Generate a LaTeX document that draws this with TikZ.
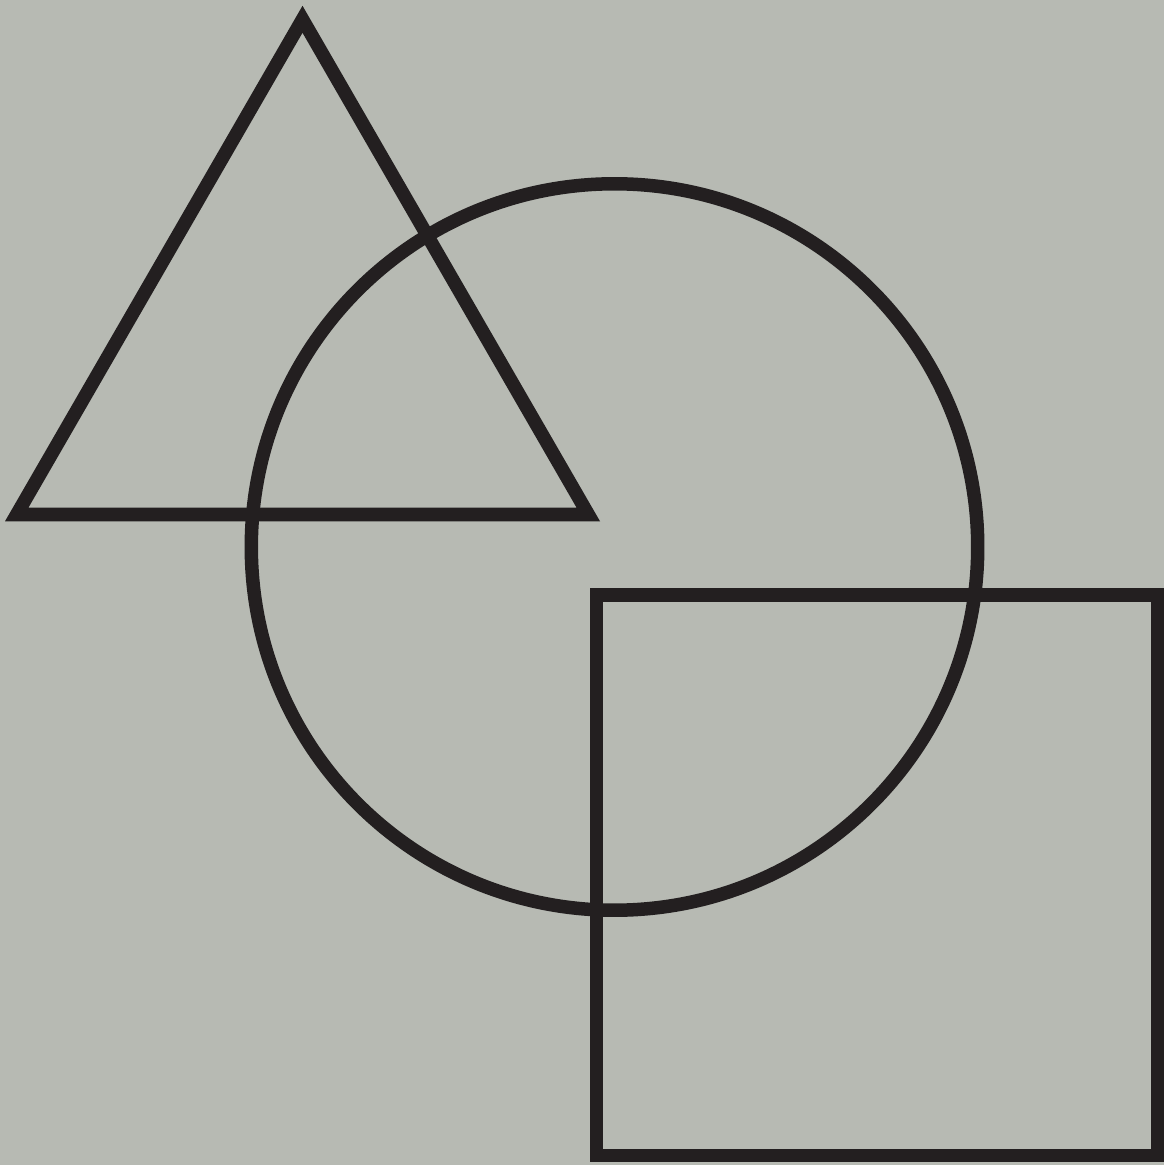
\documentclass[tikz,border=0pt]{standalone}
\usepackage{xcolor}
\usetikzlibrary{calc}
\definecolor{paper}{HTML}{B7BAB3}
\definecolor{ink}{HTML}{231F20}
\tikzset{outline/.style={draw=ink,line width=0.135cm,miter limit=10}}

\begin{document}
\begin{tikzpicture}[x=0.01cm,y=-0.01cm]
        % Background
        \fill[paper] (0,0) rectangle (1164,1165);
        \useasboundingbox (0,0) rectangle (1164,1165);

        % Triangle
        \coordinate (apex) at (302.5,19.3);
        \coordinate (left) at (16.7,514.5);
        \coordinate (right) at (588.3,514.5);
        \draw[outline] (apex) -- (left) -- (right) -- cycle;

        % Circle
        \coordinate (centre) at (614.5,547);
        \draw[outline] (centre) circle[radius=3.63cm];

        % Square
        \draw[outline] (596.5,595) rectangle (1157.5,1155.5);
    \end{tikzpicture}
\end{document}
